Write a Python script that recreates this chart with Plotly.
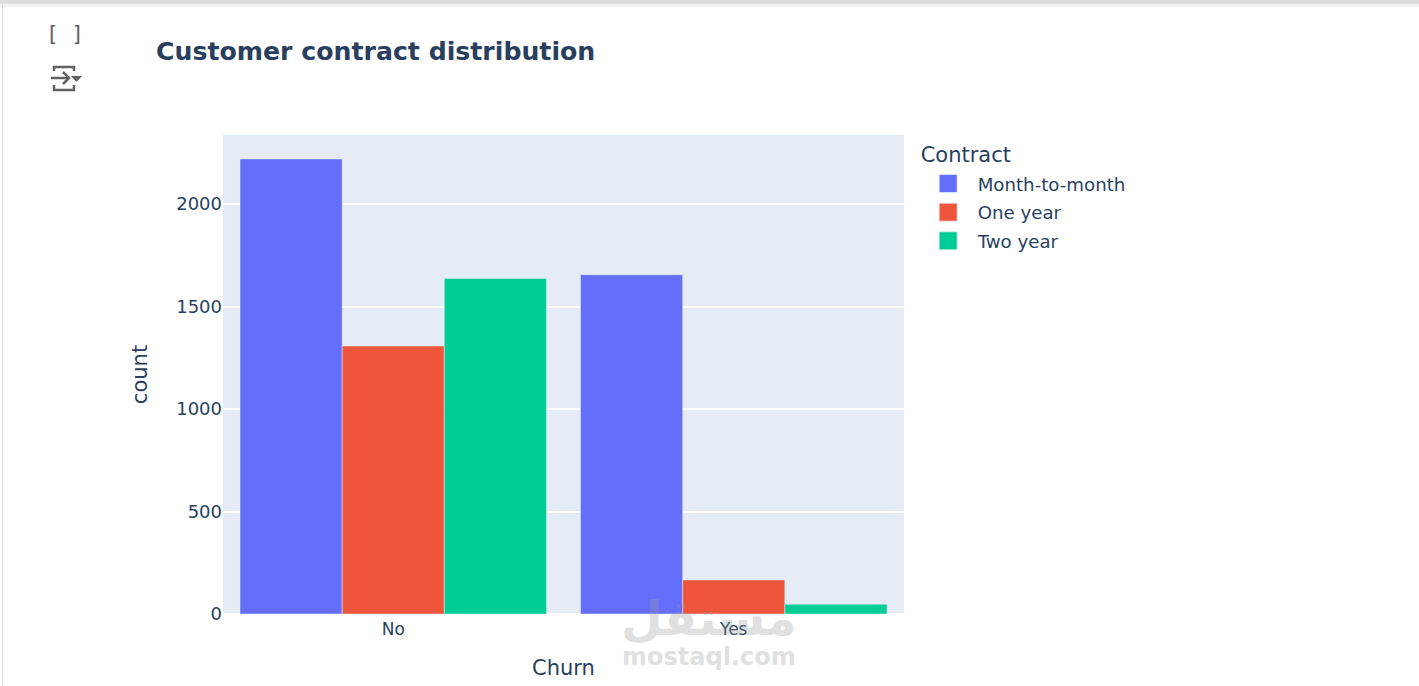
import plotly.graph_objects as go

churn = ['No', 'Yes']
contracts = ['Month-to-month', 'One year', 'Two year']
month_to_month = [2220, 1655]
one_year = [1307, 166]
two_year = [1637, 48]
colors = ['#636EFA', '#EF553B', '#00CC96']

W, H = 1419, 686
FIG_H = 720  # taller than the window so the x title doesn't squeeze the plot area
L, R, T, B = 223, 904, 135, 614

# pixel helpers for the notebook bits around the chart
def px_x(x):
    return (x - L) / (R - L)

def px_y(y):
    return (B - y) / (B - T)

def line_path(points):
    return 'M' + ' L'.join(f'{px_x(x)},{px_y(y)}' for x, y in points)

fig = go.Figure()
for name, vals, col in zip(contracts, [month_to_month, one_year, two_year], colors):
    fig.add_trace(go.Bar(x=churn, y=vals, name=name, marker_color=col, legendgroup=name))

fig.update_layout(
    barmode='group',
    bargap=0.1,
    width=W,
    height=FIG_H,
    margin=dict(l=L, r=W - R, t=T, b=FIG_H - B),
    font=dict(family='DejaVu Sans', color='#2a3f5f', size=16),
    title=dict(text='<b>Customer contract distribution</b>', x=156 / W, xanchor='left',
               y=1 - 51 / FIG_H, yanchor='middle', font=dict(size=25.2, color='#2a3f5f')),
    legend=dict(title=dict(text='Contract', font=dict(size=21)), font=dict(size=18.2),
                tracegroupgap=2, itemwidth=49, x=1.0215, y=0.994),
    xaxis=dict(title=dict(text='Churn', font=dict(size=21), standoff=22), tickfont=dict(size=17),
               ticklabelstandoff=3),
    yaxis=dict(title=dict(text='count', font=dict(size=21), standoff=22), tickfont=dict(size=18),
               gridwidth=1.5),
)

# page edge and cell icons
grey = '#616161'
fig.add_shape(type='rect', xref='paper', yref='paper', x0=px_x(0), x1=px_x(W), y0=px_y(0), y1=px_y(7),
              fillcolor='#f3f3f3', line_width=0)
fig.add_shape(type='rect', xref='paper', yref='paper', x0=px_x(0), x1=px_x(W), y0=px_y(0), y1=px_y(4),
              fillcolor='#dedede', line_width=0)
fig.add_shape(type='rect', xref='paper', yref='paper', x0=px_x(2), x1=px_x(3), y0=px_y(4), y1=px_y(H),
              fillcolor='#dedede', line_width=0)
icon_lines = [
    [(54, 71), (54, 67), (74, 67), (74, 71)],
    [(54, 85), (54, 90), (74, 90), (74, 85)],
    [(51, 78), (69, 78)],
    [(63, 72), (69, 78), (63, 84)],
]
for pts in icon_lines:
    fig.add_shape(type='path', xref='paper', yref='paper', path=line_path(pts),
                  line=dict(color=grey, width=2.5))
fig.add_shape(type='path', xref='paper', yref='paper',
              path=line_path([(71, 76), (82, 76), (76.5, 82)]) + ' Z',
              fillcolor=grey, line_width=0)
fig.add_annotation(text='[ ]', xref='paper', yref='paper', x=px_x(65), y=px_y(34), showarrow=False,
                   xanchor='center', yanchor='middle',
                   font=dict(family='DejaVu Sans Mono', size=21, color=grey))

# watermark
fig.add_annotation(text='<b>مستقل</b>', xref='paper', yref='paper', x=px_x(709), y=px_y(618), showarrow=False,
                   xanchor='center', yanchor='middle',
                   font=dict(family='DejaVu Sans', size=48, color='#9a9a9a'), opacity=0.3)
fig.add_annotation(text='<b>mostaql.com</b>', xref='paper', yref='paper', x=px_x(709), y=px_y(657), showarrow=False,
                   xanchor='center', yanchor='middle',
                   font=dict(family='DejaVu Sans', size=24, color='#9a9a9a'), opacity=0.3)

post = """
document.body.style.margin = '0';
document.body.style.overflow = 'hidden';
document.documentElement.style.overflow = 'hidden';
var gd = document.querySelector('.plotly-graph-div');
gd.querySelectorAll('.legendpoints path').forEach(function (p) {
    var t = p.getAttribute('transform') || '';
    p.setAttribute('transform', t + ' scale(1.5)');
});
var lt = gd.querySelector('.legendtitletext');
if (lt) lt.setAttribute('transform', 'translate(0,-3)');
"""
fig.write_html('out.html', config={'displayModeBar': False}, post_script=post)
